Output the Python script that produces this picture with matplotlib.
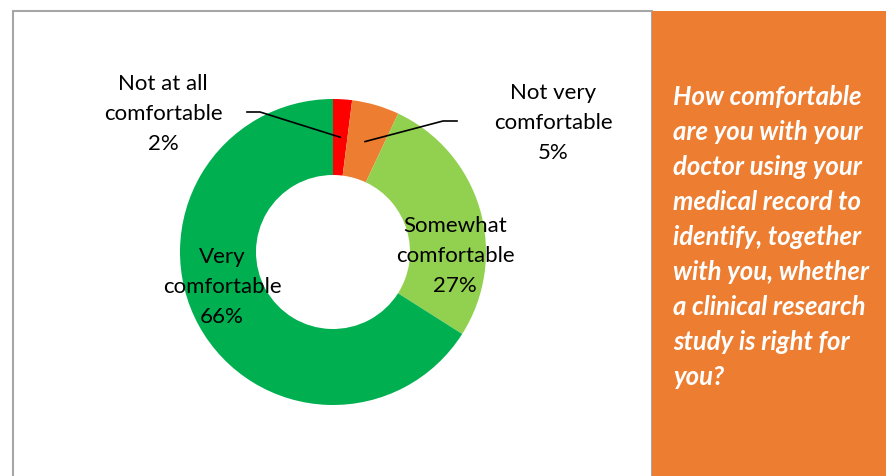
import numpy as np
import matplotlib
matplotlib.use("Agg")
import matplotlib.pyplot as plt
from matplotlib.patches import Rectangle

categories = ["Not at all\ncomfortable", "Not very\ncomfortable", "Somewhat\ncomfortable", "Very\ncomfortable"]
values = [2, 5, 27, 66]
colors = ["#FF0000", "#ED7D31", "#92D050", "#00B050"]
question = ("How comfortable\nare you with your\ndoctor using your\nmedical record to\n"
            "identify, together\nwith you, whether\na clinical research\nstudy is right for\nyou?")

plt.rcParams['font.family'] = ['Lato', 'DejaVu Sans']

W, H = 886, 476
fig = plt.figure(figsize=(W / 100, H / 100), dpi=100)
ax = fig.add_axes([0, 0, 1, 1])

# frame around chart area and orange panel (in pixel coords, y measured from top)
ax.add_patch(Rectangle((13, H - 480), 639, 480 - 11, fill=False, edgecolor="#A6A6A6", lw=1.5, zorder=1))
ax.add_patch(Rectangle((652, 0), W - 652, H - 11, facecolor="#ED7D31", edgecolor="none", zorder=2))

cx, cy = 333, H - 252
R, w = 153, 76
wedges, _ = ax.pie(values, colors=colors, startangle=90, counterclock=False,
                   center=(cx, cy), radius=R,
                   wedgeprops=dict(width=w, edgecolor="none"))
ax.set_xlim(0, W)
ax.set_ylim(0, H)
ax.set_aspect("equal")
ax.axis("off")

total = sum(values)
fs = 16
labels = [f"{c}\n{v}%" for c, v in zip(categories, values)]
label_pos = [(163, 114), (553, 123), (455, 256), (222, 287)]
for lab, (lx, ly) in zip(labels, label_pos):
    ax.text(lx, H - ly, lab, ha="center", va="center", fontsize=fs, color="#000000",
            linespacing=1.6, zorder=5)

# leader lines for the two small slices
cum = np.cumsum([0] + values)
rmid = R - w / 2
elbows = [((247, 112), (260, 112)), ((457, 121), (443, 121))]
for i, (p0, p1) in enumerate(elbows):
    ang = np.deg2rad(90 - 360 * (cum[i] + values[i] / 2) / total)
    ex, ey = cx + rmid * np.cos(ang), cy + rmid * np.sin(ang)
    ax.plot([p0[0], p1[0], ex], [H - p0[1], H - p1[1], ey], color="black", lw=1.2, zorder=6)

ax.text(673, H - 85, question, ha="left", va="top", fontsize=18.5, color="white",
        fontweight="bold", fontstyle="italic", linespacing=1.55, zorder=5)

fig.savefig("out.png", dpi=100)
